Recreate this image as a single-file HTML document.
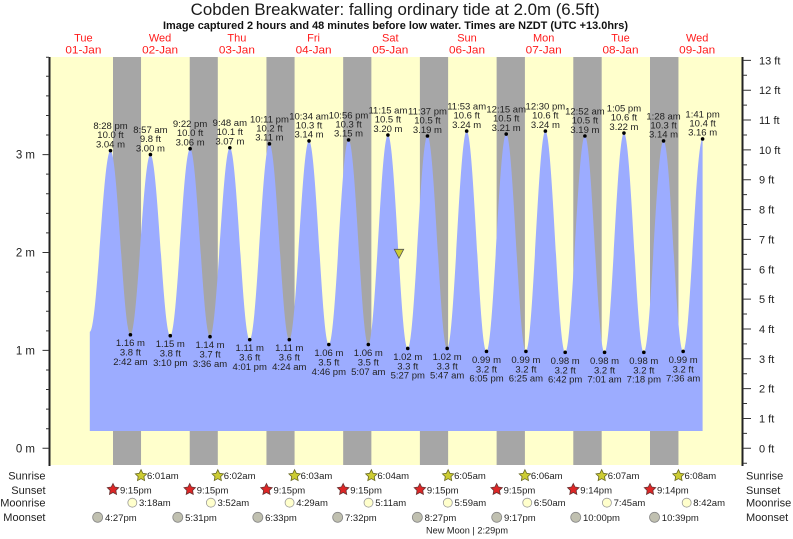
<!DOCTYPE html>
<html><head><meta charset="utf-8"><style>
html,body{margin:0;padding:0;background:#fff;}
svg{display:block;font-family:"Liberation Sans",Arial,sans-serif;}
.lb{font-size:9.5px;fill:#222;text-anchor:middle;}
.ev{font-size:9.5px;fill:#222;}
.rl{font-size:11px;fill:#222;}
.day{font-size:11px;fill:#ff1a1a;text-anchor:middle;}
</style></head><body>
<svg width="793" height="539" viewBox="0 0 793 539" xmlns="http://www.w3.org/2000/svg">
<defs>
<polygon id="star" points="0,-6 1.76,-2.43 5.71,-1.85 2.85,0.93 3.53,4.85 0,3 -3.53,4.85 -2.85,0.93 -5.71,-1.85 -1.76,-2.43"/>
</defs>
<!-- title -->
<text x="190.7" y="15" font-size="16.5" fill="#1a1a1a" textLength="409" lengthAdjust="spacingAndGlyphs">Cobden Breakwater: falling  ordinary tide at 2.0m (6.5ft)</text>
<text x="163" y="29" font-size="11" font-weight="bold" fill="#111" textLength="465" lengthAdjust="spacingAndGlyphs">Image captured 2 hours and 48 minutes before low water. Times are NZDT (UTC +13.0hrs)</text>
<!-- day labels -->
<g class="day">
<text x="83.4" y="41.3">Tue</text><text x="83.4" y="53.3" textLength="36" lengthAdjust="spacingAndGlyphs">01-Jan</text>
<text x="160.1" y="41.3">Wed</text><text x="160.1" y="53.3" textLength="36" lengthAdjust="spacingAndGlyphs">02-Jan</text>
<text x="236.9" y="41.3">Thu</text><text x="236.9" y="53.3" textLength="36" lengthAdjust="spacingAndGlyphs">03-Jan</text>
<text x="313.6" y="41.3">Fri</text><text x="313.6" y="53.3" textLength="36" lengthAdjust="spacingAndGlyphs">04-Jan</text>
<text x="390.3" y="41.3">Sat</text><text x="390.3" y="53.3" textLength="36" lengthAdjust="spacingAndGlyphs">05-Jan</text>
<text x="467.0" y="41.3">Sun</text><text x="467.0" y="53.3" textLength="36" lengthAdjust="spacingAndGlyphs">06-Jan</text>
<text x="543.7" y="41.3">Mon</text><text x="543.7" y="53.3" textLength="36" lengthAdjust="spacingAndGlyphs">07-Jan</text>
<text x="620.5" y="41.3">Tue</text><text x="620.5" y="53.3" textLength="36" lengthAdjust="spacingAndGlyphs">08-Jan</text>
<text x="697.2" y="41.3">Wed</text><text x="697.2" y="53.3" textLength="36" lengthAdjust="spacingAndGlyphs">09-Jan</text>
</g>
<!-- plot background -->
<rect x="50" y="57" width="692.5" height="408" fill="#ffffcc"/>
<g fill="#a6a6a6">
<rect x="113.00" y="57" width="28.03" height="408"/>
<rect x="189.73" y="57" width="28.07" height="408"/>
<rect x="266.45" y="57" width="28.13" height="408"/>
<rect x="343.17" y="57" width="28.19" height="408"/>
<rect x="419.89" y="57" width="28.24" height="408"/>
<rect x="496.62" y="57" width="28.29" height="408"/>
<rect x="573.29" y="57" width="28.40" height="408"/>
<rect x="650.01" y="57" width="28.45" height="408"/>
</g>
<!-- tide curve -->
<path fill="#9cacff" d="M89.8 431 L89.8 331.8
C97.33 331.8,102.97 150.68,110.5 150.68
C117.75 150.68,123.17 334.74,130.42 334.74
C137.69 334.74,143.13 154.6,150.4 154.6
C157.64 154.6,163.04 335.71,170.28 335.71
C177.49 335.71,182.89 148.73,190.1 148.73
C197.35 148.73,202.77 336.69,210.02 336.69
C217.24 336.69,222.63 147.75,229.85 147.75
C237.08 147.75,242.49 339.63,249.72 339.63
C256.89 339.63,262.26 143.83,269.43 143.83
C276.67 143.83,282.07 339.63,289.31 339.63
C296.48 339.63,301.85 140.89,309.02 140.89
C316.23 140.89,321.63 344.53,328.84 344.53
C336.02 344.53,341.38 139.91,348.56 139.91
C355.75 139.91,361.13 344.53,368.32 344.53
C375.46 344.53,380.79 135.02,387.93 135.02
C395.14 135.02,400.54 348.44,407.75 348.44
C414.92 348.44,420.29 136,427.46 136
C434.63 136,440.0 348.44,447.17 348.44
C454.27 348.44,459.57 131.1,466.67 131.1
C473.88 131.1,479.28 351.38,486.49 351.38
C493.67 351.38,499.03 134.04,506.21 134.04
C513.38 134.04,518.75 351.38,525.92 351.38
C533.0 351.38,538.29 131.1,545.37 131.1
C552.58 131.1,557.98 352.36,565.19 352.36
C572.36 352.36,577.73 136,584.9 136
C592.06 136,597.4 352.36,604.56 352.36
C611.62 352.36,616.9 133.06,623.96 133.06
C631.19 133.06,636.6 352.36,643.83 352.36
C651.01 352.36,656.37 140.89,663.55 140.89
C670.68 140.89,676.02 351.38,683.15 351.38
C690.23 351.38,695.52 138.94,702.6 138.94
L702.6 431 Z"/>
<!-- current marker -->
<polygon points="394.3,249.3 403.7,249.3 399,258.3" fill="#cccc33" stroke="#555" stroke-width="0.8"/>
<!-- dots -->
<g fill="#000">
<circle cx="110.50" cy="150.68" r="1.8"/><circle cx="150.40" cy="154.60" r="1.8"/><circle cx="190.10" cy="148.73" r="1.8"/><circle cx="229.85" cy="147.75" r="1.8"/>
<circle cx="269.43" cy="143.83" r="1.8"/><circle cx="309.02" cy="140.89" r="1.8"/><circle cx="348.56" cy="139.91" r="1.8"/><circle cx="387.93" cy="135.02" r="1.8"/>
<circle cx="427.46" cy="136.00" r="1.8"/><circle cx="466.67" cy="131.10" r="1.8"/><circle cx="506.21" cy="134.04" r="1.8"/><circle cx="545.37" cy="131.10" r="1.8"/>
<circle cx="584.90" cy="136.00" r="1.8"/><circle cx="623.96" cy="133.06" r="1.8"/><circle cx="663.55" cy="140.89" r="1.8"/><circle cx="702.60" cy="138.94" r="1.8"/>
<circle cx="130.42" cy="334.74" r="1.8"/><circle cx="170.28" cy="335.71" r="1.8"/><circle cx="210.02" cy="336.69" r="1.8"/><circle cx="249.72" cy="339.63" r="1.8"/>
<circle cx="289.31" cy="339.63" r="1.8"/><circle cx="328.84" cy="344.53" r="1.8"/><circle cx="368.32" cy="344.53" r="1.8"/><circle cx="407.75" cy="348.44" r="1.8"/>
<circle cx="447.17" cy="348.44" r="1.8"/><circle cx="486.49" cy="351.38" r="1.8"/><circle cx="525.92" cy="351.38" r="1.8"/><circle cx="565.19" cy="352.36" r="1.8"/>
<circle cx="604.56" cy="352.36" r="1.8"/><circle cx="643.83" cy="352.36" r="1.8"/><circle cx="683.15" cy="351.38" r="1.8"/>
</g>
<!-- high labels -->
<g class="lb">
<text><tspan x="110.50" y="129.2">8:28 pm</tspan><tspan x="110.50" y="138.2">10.0 ft</tspan><tspan x="110.50" y="147.5">3.04 m</tspan></text>
<text><tspan x="150.40" y="133.1">8:57 am</tspan><tspan x="150.40" y="142.1">9.8 ft</tspan><tspan x="150.40" y="151.4">3.00 m</tspan></text>
<text><tspan x="190.10" y="127.2">9:22 pm</tspan><tspan x="190.10" y="136.2">10.0 ft</tspan><tspan x="190.10" y="145.5">3.06 m</tspan></text>
<text><tspan x="229.85" y="126.2">9:48 am</tspan><tspan x="229.85" y="135.2">10.1 ft</tspan><tspan x="229.85" y="144.5">3.07 m</tspan></text>
<text><tspan x="269.43" y="122.3">10:11 pm</tspan><tspan x="269.43" y="131.3">10.2 ft</tspan><tspan x="269.43" y="140.6">3.11 m</tspan></text>
<text><tspan x="309.02" y="119.4">10:34 am</tspan><tspan x="309.02" y="128.4">10.3 ft</tspan><tspan x="309.02" y="137.7">3.14 m</tspan></text>
<text><tspan x="348.56" y="118.4">10:56 pm</tspan><tspan x="348.56" y="127.4">10.3 ft</tspan><tspan x="348.56" y="136.7">3.15 m</tspan></text>
<text><tspan x="387.93" y="113.5">11:15 am</tspan><tspan x="387.93" y="122.5">10.5 ft</tspan><tspan x="387.93" y="131.8">3.20 m</tspan></text>
<text><tspan x="427.46" y="114.5">11:37 pm</tspan><tspan x="427.46" y="123.5">10.5 ft</tspan><tspan x="427.46" y="132.8">3.19 m</tspan></text>
<text><tspan x="466.67" y="109.6">11:53 am</tspan><tspan x="466.67" y="118.6">10.6 ft</tspan><tspan x="466.67" y="127.9">3.24 m</tspan></text>
<text><tspan x="506.21" y="112.5">12:15 am</tspan><tspan x="506.21" y="121.5">10.5 ft</tspan><tspan x="506.21" y="130.8">3.21 m</tspan></text>
<text><tspan x="545.37" y="109.6">12:30 pm</tspan><tspan x="545.37" y="118.6">10.6 ft</tspan><tspan x="545.37" y="127.9">3.24 m</tspan></text>
<text><tspan x="584.90" y="114.5">12:52 am</tspan><tspan x="584.90" y="123.5">10.5 ft</tspan><tspan x="584.90" y="132.8">3.19 m</tspan></text>
<text><tspan x="623.96" y="111.6">1:05 pm</tspan><tspan x="623.96" y="120.6">10.6 ft</tspan><tspan x="623.96" y="129.9">3.22 m</tspan></text>
<text><tspan x="663.55" y="119.4">1:28 am</tspan><tspan x="663.55" y="128.4">10.3 ft</tspan><tspan x="663.55" y="137.7">3.14 m</tspan></text>
<text><tspan x="702.60" y="117.4">1:41 pm</tspan><tspan x="702.60" y="126.4">10.4 ft</tspan><tspan x="702.60" y="135.7">3.16 m</tspan></text>
</g>
<!-- low labels -->
<g class="lb">
<text><tspan x="130.42" y="346.2">1.16 m</tspan><tspan x="130.42" y="355.7">3.8 ft</tspan><tspan x="130.42" y="365.0">2:42 am</tspan></text>
<text><tspan x="170.28" y="347.2">1.15 m</tspan><tspan x="170.28" y="356.7">3.8 ft</tspan><tspan x="170.28" y="366.0">3:10 pm</tspan></text>
<text><tspan x="210.02" y="348.2">1.14 m</tspan><tspan x="210.02" y="357.7">3.7 ft</tspan><tspan x="210.02" y="367.0">3:36 am</tspan></text>
<text><tspan x="249.72" y="351.1">1.11 m</tspan><tspan x="249.72" y="360.6">3.6 ft</tspan><tspan x="249.72" y="369.9">4:01 pm</tspan></text>
<text><tspan x="289.31" y="351.1">1.11 m</tspan><tspan x="289.31" y="360.6">3.6 ft</tspan><tspan x="289.31" y="369.9">4:24 am</tspan></text>
<text><tspan x="328.84" y="356.0">1.06 m</tspan><tspan x="328.84" y="365.5">3.5 ft</tspan><tspan x="328.84" y="374.8">4:46 pm</tspan></text>
<text><tspan x="368.32" y="356.0">1.06 m</tspan><tspan x="368.32" y="365.5">3.5 ft</tspan><tspan x="368.32" y="374.8">5:07 am</tspan></text>
<text><tspan x="407.75" y="359.9">1.02 m</tspan><tspan x="407.75" y="369.4">3.3 ft</tspan><tspan x="407.75" y="378.7">5:27 pm</tspan></text>
<text><tspan x="447.17" y="359.9">1.02 m</tspan><tspan x="447.17" y="369.4">3.3 ft</tspan><tspan x="447.17" y="378.7">5:47 am</tspan></text>
<text><tspan x="486.49" y="362.9">0.99 m</tspan><tspan x="486.49" y="372.4">3.2 ft</tspan><tspan x="486.49" y="381.7">6:05 pm</tspan></text>
<text><tspan x="525.92" y="362.9">0.99 m</tspan><tspan x="525.92" y="372.4">3.2 ft</tspan><tspan x="525.92" y="381.7">6:25 am</tspan></text>
<text><tspan x="565.19" y="363.9">0.98 m</tspan><tspan x="565.19" y="373.4">3.2 ft</tspan><tspan x="565.19" y="382.7">6:42 pm</tspan></text>
<text><tspan x="604.56" y="363.9">0.98 m</tspan><tspan x="604.56" y="373.4">3.2 ft</tspan><tspan x="604.56" y="382.7">7:01 am</tspan></text>
<text><tspan x="643.83" y="363.9">0.98 m</tspan><tspan x="643.83" y="373.4">3.2 ft</tspan><tspan x="643.83" y="382.7">7:18 pm</tspan></text>
<text><tspan x="683.15" y="362.9">0.99 m</tspan><tspan x="683.15" y="372.4">3.2 ft</tspan><tspan x="683.15" y="381.7">7:36 am</tspan></text>
</g>
<!-- axes -->
<line x1="49.5" y1="57" x2="49.5" y2="466" stroke="#222" stroke-width="2"/>
<line x1="742.5" y1="57" x2="742.5" y2="466" stroke="#222" stroke-width="2"/>
<path stroke="#333" stroke-width="1" fill="none" d="
M42.5 448.3H49 M42.5 350.4H49 M42.5 252.5H49 M42.5 154.6H49
M46 428.72H49 M46 409.14H49 M46 389.56H49 M46 369.98H49 M46 330.82H49 M46 311.24H49 M46 291.66H49 M46 272.08H49
M46 232.92H49 M46 213.34H49 M46 193.76H49 M46 174.18H49 M46 135.02H49 M46 115.44H49 M46 95.86H49 M46 76.28H49 M46 57.2H49
M743 448.3H751 M743 418.46H751 M743 388.62H751 M743 358.78H751 M743 328.94H751 M743 299.1H751 M743 269.26H751 M743 239.42H751
M743 209.58H751 M743 179.74H751 M743 149.9H751 M743 120.06H751 M743 90.22H751 M743 60.38H751
M743 463.2H747 M743 433.38H747 M743 403.54H747 M743 373.7H747 M743 343.86H747 M743 314.02H747 M743 284.18H747
M743 254.34H747 M743 224.5H747 M743 194.66H747 M743 164.82H747 M743 134.98H747 M743 105.14H747 M743 75.3H747"/>
<g font-size="11.5" fill="#222" text-anchor="end">
<text x="35" y="158.6">3 m</text><text x="35" y="256.5">2 m</text><text x="35" y="354.4">1 m</text><text x="35" y="452.3">0 m</text>
</g>
<g font-size="11" fill="#222">
<text x="759" y="452.3">0 ft</text><text x="759" y="422.5">1 ft</text><text x="759" y="392.6">2 ft</text><text x="759" y="362.8">3 ft</text>
<text x="759" y="332.9">4 ft</text><text x="759" y="303.1">5 ft</text><text x="759" y="273.3">6 ft</text><text x="759" y="243.4">7 ft</text>
<text x="759" y="213.6">8 ft</text><text x="759" y="183.7">9 ft</text><text x="759" y="153.9">10 ft</text><text x="759" y="124.1">11 ft</text>
<text x="759" y="94.2">12 ft</text><text x="759" y="64.4">13 ft</text>
</g>
<!-- bottom row labels -->
<g class="rl" text-anchor="end">
<text x="45.5" y="479.6">Sunrise</text><text x="45.5" y="494">Sunset</text><text x="45.5" y="506.6">Moonrise</text><text x="45.5" y="521.2">Moonset</text>
</g>
<g class="rl">
<text x="746" y="479.6">Sunrise</text><text x="746" y="494">Sunset</text><text x="746" y="506.6">Moonrise</text><text x="746" y="521.2">Moonset</text>
</g>
<!-- sunrise -->
<g fill="#cccc33" stroke="#666622" stroke-width="0.8">
<use href="#star" x="141.03" y="475.7"/><use href="#star" x="217.80" y="475.7"/><use href="#star" x="294.58" y="475.7"/><use href="#star" x="371.36" y="475.7"/>
<use href="#star" x="448.13" y="475.7"/><use href="#star" x="524.91" y="475.7"/><use href="#star" x="601.69" y="475.7"/><use href="#star" x="678.46" y="475.7"/>
</g>
<g class="ev">
<text x="147" y="479.2">6:01am</text><text x="223.8" y="479.2">6:02am</text><text x="300.6" y="479.2">6:03am</text><text x="377.4" y="479.2">6:04am</text>
<text x="454.1" y="479.2">6:05am</text><text x="530.9" y="479.2">6:06am</text><text x="607.7" y="479.2">6:07am</text><text x="684.5" y="479.2">6:08am</text>
</g>
<!-- sunset -->
<g fill="#dd2626" stroke="#663333" stroke-width="0.8">
<use href="#star" x="113.00" y="489.5"/><use href="#star" x="189.73" y="489.5"/><use href="#star" x="266.45" y="489.5"/><use href="#star" x="343.17" y="489.5"/>
<use href="#star" x="419.89" y="489.5"/><use href="#star" x="496.62" y="489.5"/><use href="#star" x="573.29" y="489.5"/><use href="#star" x="650.01" y="489.5"/>
</g>
<g class="ev">
<text x="120" y="493.5">9:15pm</text><text x="196.7" y="493.5">9:15pm</text><text x="273.5" y="493.5">9:15pm</text><text x="350.2" y="493.5">9:15pm</text>
<text x="426.9" y="493.5">9:15pm</text><text x="503.6" y="493.5">9:15pm</text><text x="580.3" y="493.5">9:14pm</text><text x="657" y="493.5">9:14pm</text>
</g>
<!-- moonrise -->
<g fill="#ffffcc" stroke="#999" stroke-width="0.8">
<circle cx="132.34" cy="502.7" r="4.5"/><circle cx="210.88" cy="502.7" r="4.5"/><circle cx="289.57" cy="502.7" r="4.5"/><circle cx="368.53" cy="502.7" r="4.5"/>
<circle cx="447.81" cy="502.7" r="4.5"/><circle cx="527.25" cy="502.7" r="4.5"/><circle cx="606.91" cy="502.7" r="4.5"/><circle cx="686.67" cy="502.7" r="4.5"/>
</g>
<g class="ev">
<text x="139" y="506.2">3:18am</text><text x="217.5" y="506.2">3:52am</text><text x="296.2" y="506.2">4:29am</text><text x="375.2" y="506.2">5:11am</text>
<text x="454.5" y="506.2">5:59am</text><text x="533.9" y="506.2">6:50am</text><text x="613.6" y="506.2">7:45am</text><text x="693.3" y="506.2">8:42am</text>
</g>
<!-- moonset -->
<g fill="#c0c0b0" stroke="#888" stroke-width="0.8">
<circle cx="97.66" cy="517.3" r="5"/><circle cx="177.79" cy="517.3" r="5"/><circle cx="257.82" cy="517.3" r="5"/><circle cx="337.68" cy="517.3" r="5"/>
<circle cx="417.34" cy="517.3" r="5"/><circle cx="496.73" cy="517.3" r="5"/><circle cx="575.74" cy="517.3" r="5"/><circle cx="654.54" cy="517.3" r="5"/>
</g>
<g class="ev">
<text x="105" y="520.8">4:27pm</text><text x="185.1" y="520.8">5:31pm</text><text x="265.1" y="520.8">6:33pm</text><text x="345" y="520.8">7:32pm</text>
<text x="424.6" y="520.8">8:27pm</text><text x="504" y="520.8">9:17pm</text><text x="583" y="520.8">10:00pm</text><text x="661.8" y="520.8">10:39pm</text>
</g>
<text class="ev" x="426" y="533.5" textLength="82" lengthAdjust="spacingAndGlyphs">New Moon | 2:29pm</text>
</svg>
</body></html>
